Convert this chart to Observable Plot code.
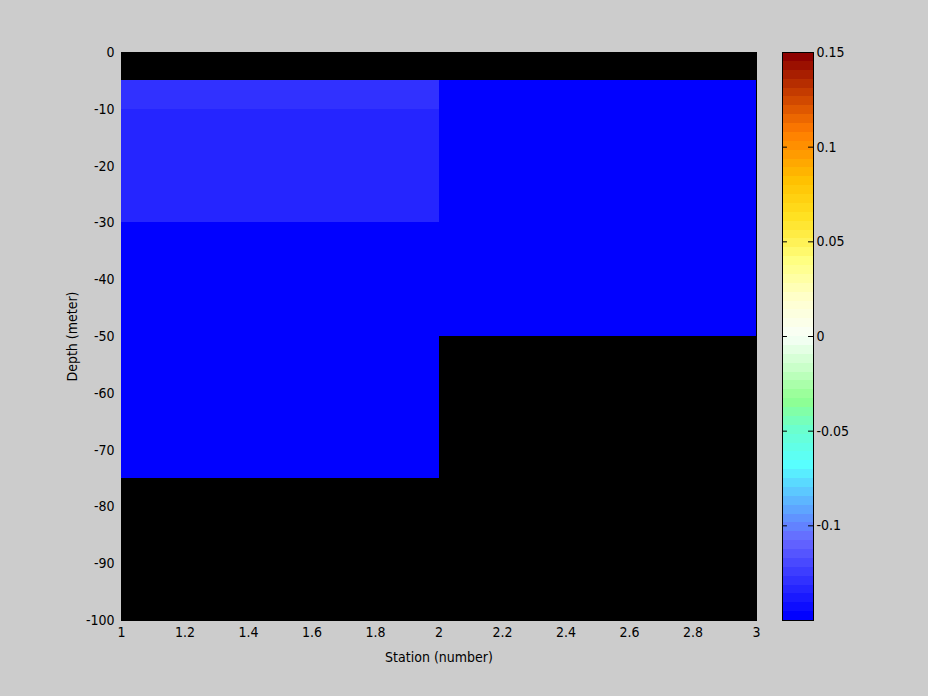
<!DOCTYPE html>
<html>
<head>
<meta charset="utf-8">
<script src="https://cdn.jsdelivr.net/npm/d3@7"></script>
<script src="https://cdn.jsdelivr.net/npm/@observablehq/plot@0.6"></script>
<style>
  html, body { margin: 0; padding: 0; background: #cccccc; }
  #wrap { position: relative; width: 928px; height: 696px; background: #cccccc; overflow: hidden; }
  #main, #cbar { position: absolute; top: 0; }
  #main { left: 0; }
  #cbar { left: 770px; }
</style>
</head>
<body>
<div id="wrap"><div id="main"></div><div id="cbar"></div></div>
<script>
// ---- data ----
const cellX1 = [1, 1, 1, 2];
const cellX2 = [2, 2, 2, 3];
const cellTop = [-5, -10, -30, -5];
const cellBottom = [-10, -30, -75, -50];
const cellValue = [-0.128, -0.133, -0.16, -0.16];

const xTicks = [1, 1.2, 1.4, 1.6, 1.8, 2, 2.2, 2.4, 2.6, 2.8, 3];
const yTicks = [0, -10, -20, -30, -40, -50, -60, -70, -80, -90, -100];
const cbTicks = [-0.1, -0.05, 0, 0.05, 0.1, 0.15];
const cbDomain = [-0.15, 0.15];

// ---- colormap anchors (value -> colour) ----
const mapValues = [-0.148, -0.108, -0.097, -0.084, -0.068, -0.0496, -0.0338, -0.018, 0, 0.019, 0.04, 0.0507, 0.0639, 0.0824, 0.1003, 0.108, 0.1247, 0.148];
const mapColors = ["#0000ff", "#6666ff", "#6090ff", "#5cc0ff", "#58ffff", "#6affd0", "#90ff90", "#c4ffc4", "#f8fff8", "#ffffd0", "#ffff80", "#fff050", "#ffe020", "#ffc000", "#ff9000", "#ff7c00", "#d04800", "#8c0000"];
const nLevels = 64;

const interp = d3.scaleLinear().domain(mapValues).range(mapColors).interpolate(d3.interpolateRgb).clamp(true);
const step = (cbDomain[1] - cbDomain[0]) / nLevels;
const thresholds = d3.range(1, nLevels).map(k => cbDomain[0] + k * step);
const levelColors = d3.range(nLevels).map(k => d3.color(interp(cbDomain[0] + (k + 0.5) * step)).formatHex());
const colorScale = {type: "threshold", domain: thresholds, range: levelColors};

const cells = cellValue.map((v, i) => ({x1: cellX1[i], x2: cellX2[i], top: cellTop[i], bottom: cellBottom[i], value: v}));
const bands = d3.range(nLevels).map(k => ({lo: cbDomain[0] + k * step, hi: cbDomain[0] + (k + 1) * step, mid: cbDomain[0] + (k + 0.5) * step}));

const font = "'Liberation Sans Narrow', 'DejaVu Sans Condensed', 'Liberation Sans', sans-serif";
const fmt = d => String(d);

const main = Plot.plot({
  width: 770, height: 696,
  marginLeft: 121, marginRight: 14, marginTop: 52, marginBottom: 76,
  style: {background: "transparent", fontFamily: font, fontSize: "14px", color: "black"},
  x: {domain: [1, 3]},
  y: {domain: [-100, 0]},
  color: colorScale,
  marks: [
    Plot.frame({fill: "black", stroke: "black"}),
    Plot.rect(cells, {x1: "x1", x2: "x2", y1: "bottom", y2: "top", fill: "value", shapeRendering: "crispEdges"}),
    Plot.axisX({ticks: xTicks, tickSize: 0, tickPadding: 7, tickFormat: fmt, label: "Station (number)", labelAnchor: "center", labelArrow: false, labelOffset: 41, fontSize: 14}),
    Plot.axisY({ticks: yTicks, tickSize: 0, tickPadding: 7, tickFormat: fmt, label: "Depth (meter)", labelAnchor: "center", labelArrow: false, labelOffset: 54, fontSize: 14})
  ]
});
document.getElementById("main").appendChild(main);

const cbar = Plot.plot({
  width: 158, height: 696,
  marginLeft: 12, marginRight: 115, marginTop: 52, marginBottom: 76,
  style: {background: "transparent", fontFamily: font, fontSize: "14px", color: "black"},
  x: {domain: [0, 1], axis: null},
  y: {domain: cbDomain, axis: null},
  color: colorScale,
  marks: [
    Plot.rect(bands, {x1: () => 0, x2: () => 1, y1: "lo", y2: "hi", fill: "mid", shapeRendering: "crispEdges"}),
    Plot.ruleY(cbTicks, {x1: () => 0, x2: () => 0.16, stroke: "black"}),
    Plot.ruleY(cbTicks, {x1: () => 0.84, x2: () => 1, stroke: "black"}),
    Plot.frame({stroke: "black"}),
    Plot.axisY({anchor: "right", ticks: cbTicks, tickSize: 0, tickPadding: 3, tickFormat: fmt, label: null, fontSize: 14})
  ]
});
document.getElementById("cbar").appendChild(cbar);
</script>
</body>
</html>
